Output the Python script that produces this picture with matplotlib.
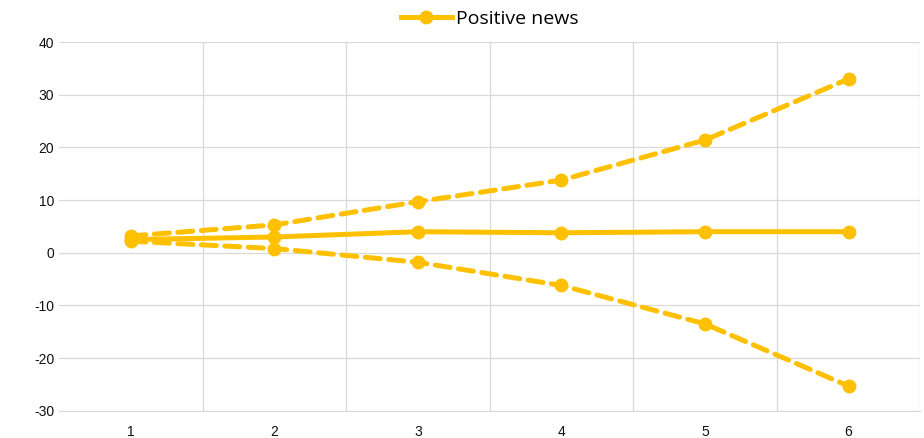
import matplotlib.pyplot as plt
import numpy as np

steps = [1, 2, 3, 4, 5, 6]
central = [2.5, 3.0, 4.0, 3.8, 4.0, 4.0]
upper = [3.2, 5.3, 9.7, 13.8, 21.4, 33.0]
lower = [2.2, 0.8, -1.8, -6.2, -13.5, -25.3]
yticks = [-30, -20, -10, 0, 10, 20, 30, 40]

gold = '#FFC000'
plt.rcParams['font.family'] = ['Liberation Sans', 'DejaVu Sans']
plt.rcParams['axes.unicode_minus'] = False

fig = plt.figure(figsize=(9.24, 4.38), dpi=100)
ax = fig.add_axes([0.064, 0.062, 0.932, 0.842])

# bands first, central line on top
for band in (upper, lower):
    ax.plot(steps, band, color=gold, lw=3.6, ls=(0, (3, 1.7)),
            dash_capstyle='round', marker='o', ms=9, zorder=3)
ax.plot(steps, central, color=gold, lw=3.6, marker='o', ms=9,
        label='Positive news', zorder=4)

ax.set_xlim(0.5, 6.5)
ax.set_ylim(-30, 40)
ax.set_yticks(yticks)
ax.set_xticks(steps)
ax.tick_params(length=0, labelsize=10, colors='#111111')
ax.tick_params(axis='x', pad=10)

# category boundary lines like excel
for b in np.arange(1.5, 7, 1):
    ax.axvline(b, color='#d9d9d9', lw=0.9, zorder=0)
ax.grid(axis='y', color='#d9d9d9', lw=0.9, zorder=0)
for s in ['top', 'right', 'left']:
    ax.spines[s].set_visible(False)
ax.spines['bottom'].set_color('#d9d9d9')

leg = ax.legend(loc='lower center', bbox_to_anchor=(0.5, 0.99), frameon=False,
                fontsize=14, handlelength=2.6, handletextpad=0.2,
                prop={'family': 'Open Sans', 'size': 14})

fig.savefig('out.png', dpi=100)
